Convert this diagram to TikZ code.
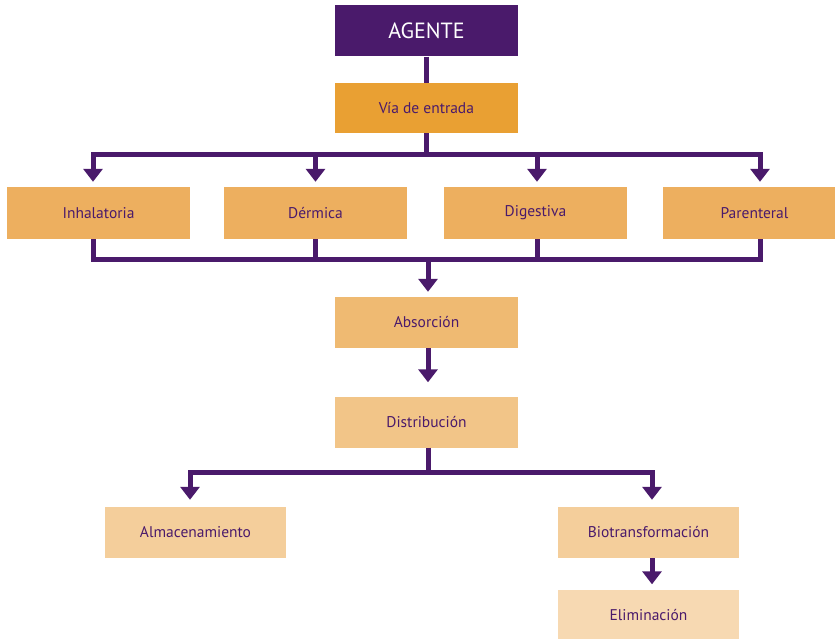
\documentclass[tikz,border=0pt]{standalone}
\usepackage{fontspec}
\setmainfont{PT Sans}
\usetikzlibrary{arrows.meta}
\definecolor{morado}{HTML}{4A1A6B}
\definecolor{naranja1}{HTML}{E9A033}
\definecolor{naranja2}{HTML}{EDAF5F}
\definecolor{naranja3}{HTML}{EFBA72}
\definecolor{naranja4}{HTML}{F2C588}
\definecolor{naranja5}{HTML}{F4CE9B}
\definecolor{naranja6}{HTML}{F7D9B2}

\begin{document}
\begin{tikzpicture}[x=1pt,y=-1pt,
    caja/.style={minimum width=183pt, minimum height=51pt, inner sep=0pt,
      text=morado, font=\fontsize{15.5}{18}\selectfont},
    linea/.style={draw=morado, line width=5pt},
    flecha/.style={linea, -{Triangle[width=19pt,length=13pt]}, shorten >=5pt}]
    % Page size of the reference
    \useasboundingbox (0,0) rectangle (835,639);

    % Boxes
    \node[caja, fill=morado, text=white, font=\fontsize{22}{26}\selectfont] (agente) at (426.5,31) {AGENTE};
    \node[caja, fill=naranja1, minimum height=50pt] (via) at (426.5,108) {Vía de entrada};
    \node[caja, fill=naranja2, minimum height=52pt] (inhal) at (98.5,213) {Inhalatoria};
    \node[caja, fill=naranja2, minimum height=52pt] (dermica) at (315.5,213) {Dérmica};
    \node[caja, fill=naranja2, minimum height=52pt] (digestiva) at (535.5,213) {Digestiva};
    \node[caja, fill=naranja2, minimum height=52pt] (parenteral) at (754.5,213) {Parenteral};
    \node[caja, fill=naranja3] (absorcion) at (426.5,322.5) {Absorción};
    \node[caja, fill=naranja4] (distribucion) at (426.5,422) {Distribución};
    \node[caja, fill=naranja5, minimum width=181pt] (almacen) at (195.5,532.5) {Almacenamiento};
    \node[caja, fill=naranja5, minimum width=181pt] (biotrans) at (648.5,532.5) {Biotransformación};
    \node[caja, fill=naranja6, minimum width=181pt] (elimina) at (648.5,615) {Eliminación};

    % Junctions
    \coordinate (arriba) at (426.5,155);
    \coordinate (abajo) at (428,259);
    \coordinate (reparto) at (428,472);

    % Agente to the four routes
    \draw[linea] (agente) -- (via);
    \draw[linea] (via) -- (arriba);
    \draw[flecha] (arriba) -| ([xshift=-5.5pt]inhal.north);
    \draw[flecha] (arriba) -| (dermica.north);
    \draw[flecha] (arriba) -| ([xshift=1.5pt]digestiva.north);
    \draw[flecha] (arriba) -| ([xshift=5.5pt]parenteral.north);

    % Routes to absorcion
    \draw[linea] ([xshift=-5.5pt]inhal.south) |- (abajo);
    \draw[linea] (dermica.south) |- (abajo);
    \draw[linea] ([xshift=1.5pt]digestiva.south) |- (abajo);
    \draw[linea] ([xshift=5.5pt]parenteral.south) |- (abajo);
    \draw[flecha] (abajo) -- (abajo |- absorcion.north);

    % Absorcion onwards
    \draw[flecha, shorten >=14pt] ([xshift=1.5pt]absorcion.south) -- ([xshift=1.5pt]distribucion.north);
    \draw[linea] ([xshift=1.5pt]distribucion.south) -- (reparto);
    \draw[flecha, shorten >=7pt] (reparto) -| ([xshift=-5.5pt]almacen.north);
    \draw[flecha, shorten >=7pt] (reparto) -| ([xshift=3.5pt]biotrans.north);
    \draw[flecha] ([xshift=3.5pt]biotrans.south) -- ([xshift=3.5pt]elimina.north);

\end{tikzpicture}
\end{document}
